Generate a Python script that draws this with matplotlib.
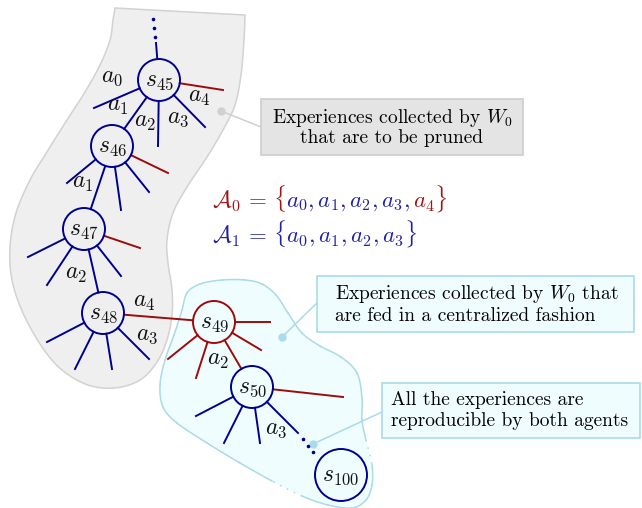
import numpy as np
import matplotlib
matplotlib.use("Agg")
import matplotlib.pyplot as plt
from matplotlib.patches import Circle, Rectangle, Polygon
from matplotlib.offsetbox import TextArea, HPacker, AnnotationBbox

# ---- diagram data (pixel coordinates, y pointing down) ----
node_names = ["45", "46", "47", "48", "49", "50", "100"]
node_x = [159, 112, 84, 103, 214, 252, 341]
node_y = [80, 146, 229, 313, 322, 387, 475]
node_r = [21, 21, 21, 21, 21, 21, 26]
node_red = [False, False, False, False, True, False, False]

# chain of nodes (parent, child, colour)
links = [(0, 1, "b"), (1, 2, "b"), (2, 3, "b"), (3, 4, "r"), (4, 5, "r")]

# loose branches: (node index, end x, end y, colour)
branches = [
    (0, 156, 43, "b"), (0, 94, 108, "b"), (0, 158, 146, "b"), (0, 205, 127, "b"), (0, 223, 90, "r"),
    (1, 67, 183, "b"), (1, 121, 210, "b"), (1, 149, 192, "b"), (1, 168, 173, "r"),
    (2, 28, 257, "b"), (2, 47, 285, "b"), (2, 121, 276, "b"), (2, 140, 248, "r"),
    (3, 47, 342, "b"), (3, 75, 369, "b"), (3, 112, 369, "b"), (3, 149, 359, "b"),
    (4, 270, 322, "r"), (4, 261, 350, "r"), (4, 196, 378, "r"), (4, 168, 359, "r"),
    (5, 196, 416, "b"), (5, 224, 443, "b"), (5, 260, 443, "b"), (5, 298, 433, "b"), (5, 343, 397, "r"),
]

# action labels on the edges
edge_labels = ["a_0", "a_1", "a_2", "a_3", "a_4", "a_1", "a_2", "a_4", "a_3", "a_2", "a_3"]
edge_label_x = [112, 118, 145, 178, 199, 83, 76, 144, 147, 218, 276]
edge_label_y = [77, 106, 122, 118, 97, 183, 274, 302, 335, 360, 429]

# ellipsis dots
dots_x = [153, 154, 155, 303, 308, 313]
dots_y = [19, 28, 37, 439, 446, 452]

# outlines of the two regions
gray_outline = [(245, 15), (244, 40), (241, 75), (235, 105), (223, 130), (207, 157), (187, 187),
                (173, 213), (167, 240), (168, 263), (172, 290), (172, 315), (167, 340), (157, 362),
                (140, 380), (115, 388), (88, 385), (62, 370), (42, 347), (23, 313), (12, 280),
                (10, 247), (16, 213), (30, 180), (45, 155), (67, 120), (85, 92), (100, 65),
                (110, 40), (113, 20), (115, 8)]
cyan_outline = [(187, 293), (200, 284), (222, 280), (245, 280), (262, 284), (276, 295), (288, 313),
                (302, 333), (320, 346), (341, 357), (357, 373), (362, 398), (362, 420), (366, 440),
                (372, 465), (372, 485), (366, 500), (352, 508), (328, 505), (302, 496), (272, 481),
                (240, 463), (207, 443), (177, 423), (163, 407), (160, 385), (165, 360), (174, 335),
                (182, 310)]
cyan_dotted = [13, 19]  # segments drawn dotted

# callout boxes: text, box (x0, y0, x1, y1), dot, text anchor
box_texts = ["Experiences collected by $W_0$\nthat are to be pruned",
             "Experiences collected by $W_0$ that\nare fed in a centralized fashion",
             "All the experiences are\nreproducible by both agents"]
box_rects = [(261, 99, 523, 155), (317, 276, 634, 332), (382, 383, 640, 438)]
box_dots = [(221, 111), (282, 337), (313, 444)]
box_joins = [(261, 127), (317, 303), (382, 412)]

BLUE = "#000090"
RED = "#9e0b0b"
EQ_BLUE = "#2020a0"
EQ_RED = "#a01515"
GRAY_FILL, GRAY_EDGE, GRAY_BOX = "#efefef", "#d2d2d2", "#e4e4e4"
CYAN_FILL, CYAN_EDGE = "#effdfe", "#a9dbe8"


def spline(pts, closed, n=24):
    P = np.array(pts, float)
    if closed:
        P = np.vstack([P[-1], P, P[0], P[1]])
    else:
        P = np.vstack([P[0], P, P[-1]])
    segs = []
    t = np.linspace(0, 1, n)[:, None]
    for i in range(1, len(P) - 2):
        p0, p1, p2, p3 = P[i - 1], P[i], P[i + 1], P[i + 2]
        segs.append(0.5 * (2 * p1 + (-p0 + p2) * t + (2 * p0 - 5 * p1 + 4 * p2 - p3) * t ** 2
                           + (-p0 + 3 * p1 - 3 * p2 + p3) * t ** 3))
    return segs


def main():
    plt.rcParams['font.family'] = 'serif'
    plt.rcParams['font.serif'] = ['cmr10', 'DejaVu Serif']
    plt.rcParams['mathtext.fontset'] = 'cm'

    fig = plt.figure(figsize=(6.42, 5.08), dpi=100)
    ax = fig.add_axes([0, 0, 1, 1])
    ax.set_xlim(0, 642)
    ax.set_ylim(508, 0)
    ax.axis('off')

    # gray region (flat top edge)
    g = np.vstack(spline(gray_outline, closed=False))
    ax.add_patch(Polygon(g, closed=True, facecolor=GRAY_FILL, edgecolor=GRAY_EDGE, lw=1.1, zorder=1))

    # cyan region, partly dotted outline
    segs = spline(cyan_outline, closed=True)
    ax.add_patch(Polygon(np.vstack(segs), closed=True, facecolor=CYAN_FILL, edgecolor='none', zorder=1))
    for i, s in enumerate(segs):
        ls = (0, (1, 4)) if i in cyan_dotted else '-'
        ax.plot(s[:, 0], s[:, 1], color=CYAN_EDGE, lw=1.1, ls=ls, zorder=2)

    # callouts
    for k in range(3):
        x0, y0, x1, y1 = box_rects[k]
        gray = k == 0
        fc = GRAY_BOX if gray else CYAN_FILL
        ec = "#cdcdcd" if gray else CYAN_EDGE
        lc = "#d0d0d0" if gray else CYAN_EDGE
        dx, dy = box_dots[k]
        jx, jy = box_joins[k]
        ax.plot([dx, jx], [dy, jy], color=lc, lw=1.1, zorder=3)
        ax.plot(dx, dy, 'o', ms=5, color=lc, zorder=3)
        ax.add_patch(Rectangle((x0, y0), x1 - x0, y1 - y0, facecolor=fc, edgecolor=ec, lw=1.2, zorder=4))
        if k == 0:
            ax.text((x0 + x1) / 2, (y0 + y1) / 2, box_texts[k], ha='center', va='center',
                    multialignment='center', fontsize=14, linespacing=1.0, zorder=5)
        else:
            ax.text(x0 + 18 if k == 1 else x0 + 9, (y0 + y1) / 2, box_texts[k], ha='left', va='center',
                    fontsize=14, linespacing=1.15, zorder=5)

    # tree
    def col(c):
        return RED if c == "r" else BLUE

    for a, b, c in links:
        ax_, ay_ = node_x[a], node_y[a]
        bx_, by_ = node_x[b], node_y[b]
        v = np.array([bx_ - ax_, by_ - ay_], float)
        u = v / np.hypot(*v)
        p = np.array([ax_, ay_]) + u * node_r[a]
        q = np.array([bx_, by_]) - u * node_r[b]
        ax.plot([p[0], q[0]], [p[1], q[1]], color=col(c), lw=1.4, zorder=6)

    for i, ex, ey, c in branches:
        v = np.array([ex - node_x[i], ey - node_y[i]], float)
        u = v / np.hypot(*v)
        p = np.array([node_x[i], node_y[i]]) + u * node_r[i]
        ax.plot([p[0], ex], [p[1], ey], color=col(c), lw=1.4, zorder=6)

    for i, name in enumerate(node_names):
        ec = RED if node_red[i] else BLUE
        ax.add_patch(Circle((node_x[i], node_y[i]), node_r[i], facecolor='none',
                            edgecolor=ec, lw=1.4, zorder=7))
        ax.text(node_x[i], node_y[i] + 1, "$s_{%s}$" % name, ha='center', va='center',
                fontsize=17, color='#111111', zorder=8)

    for s, x, y in zip(edge_labels, edge_label_x, edge_label_y):
        ax.text(x, y, "$%s$" % s, ha='center', va='center', fontsize=17, color='#111111', zorder=8)

    ax.scatter(dots_x, dots_y, s=2.5, color=BLUE, zorder=8)

    # action sets
    def colored(parts, x, y):
        areas = [TextArea(t, textprops=dict(color=c, fontsize=16.5)) for t, c in parts]
        pack = HPacker(children=areas, align='baseline', pad=0, sep=0)
        ab = AnnotationBbox(pack, (x, y), box_alignment=(0, 0.5), frameon=False, pad=0)
        ax.add_artist(ab)

    colored([(r"$\mathcal{A}_0\,=\,\{$", EQ_RED), (r"$a_0, a_1, a_2, a_3,$", EQ_BLUE),
             (r"$\,a_4\}$", EQ_RED)], 212, 198)
    colored([(r"$\mathcal{A}_1\,=\,\{a_0, a_1, a_2, a_3\}$", EQ_BLUE)], 212, 233)

    fig.savefig("out.png", dpi=100)


if __name__ == '__main__':
    main()
